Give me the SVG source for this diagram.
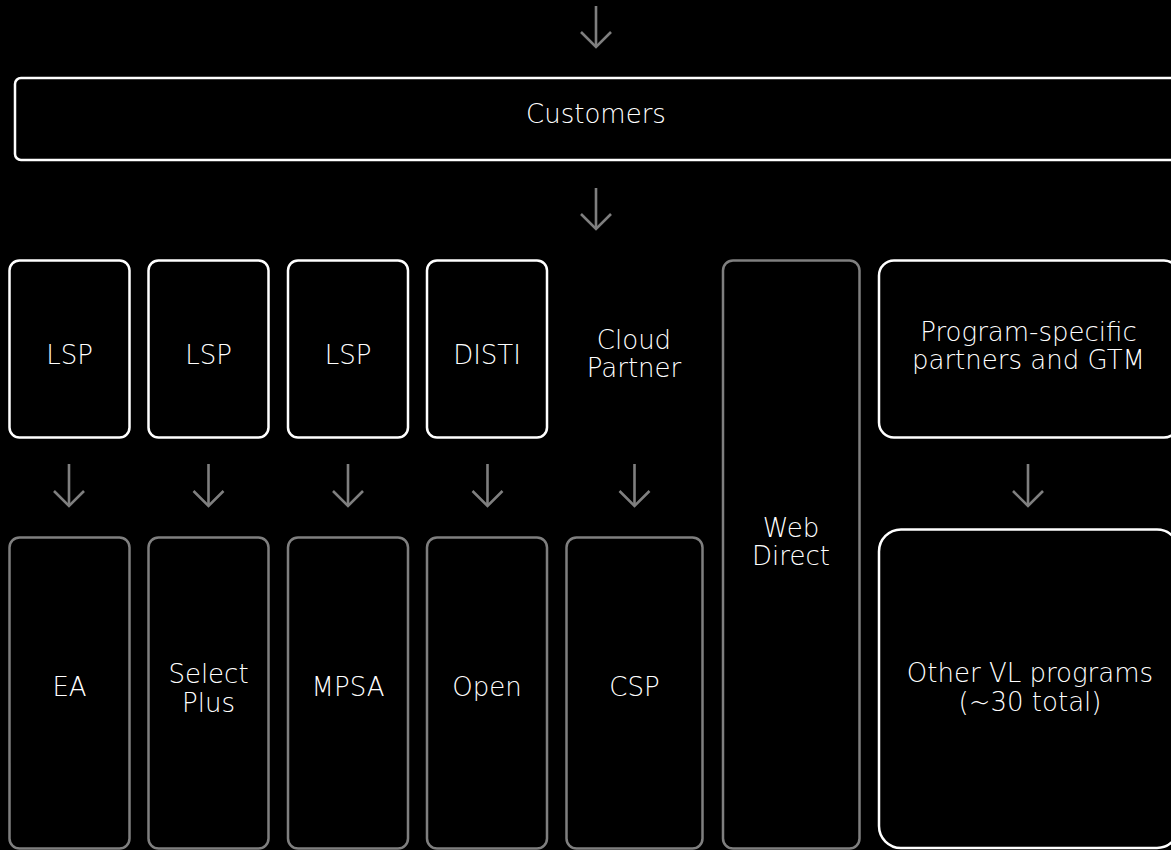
<svg xmlns="http://www.w3.org/2000/svg" width="1171" height="850" viewBox="0 0 1171 850">
<style>
  .bg { fill: #000000; }
  .box { fill: #000000; stroke: #ffffff; stroke-width: 2.5; }
  .gbox { fill: #000000; stroke: #7f7f7f; stroke-width: 2.5; }
  .lbl { fill: #ffffff; font-family: "DejaVu Sans", "Liberation Sans", sans-serif; font-weight: 200; font-size: 26px; text-anchor: middle; }
  .conn { fill: none; stroke: #7f7f7f; stroke-width: 2.6; }
</style>
<defs>
  <marker id="chev" markerUnits="userSpaceOnUse" orient="auto" refX="0" refY="0" markerWidth="20" markerHeight="34" viewBox="-17 -17 20 34" overflow="visible">
    <path d="M -15 -15 L 0 0 L -15 15" fill="none" stroke="#7f7f7f" stroke-width="2.6"/>
  </marker>
</defs>
<rect class="bg" x="0" y="0" width="1171" height="850"/>

<g id="connectors">
  <path class="conn" d="M 596 6 L 596 47" marker-end="url(#chev)"/>
  <path class="conn" d="M 596 188 L 596 229" marker-end="url(#chev)"/>
  <path class="conn" d="M 69 464 L 69 506" marker-end="url(#chev)"/>
  <path class="conn" d="M 208.5 464 L 208.5 506" marker-end="url(#chev)"/>
  <path class="conn" d="M 348 464 L 348 506" marker-end="url(#chev)"/>
  <path class="conn" d="M 487.5 464 L 487.5 506" marker-end="url(#chev)"/>
  <path class="conn" d="M 634.5 464 L 634.5 506" marker-end="url(#chev)"/>
  <path class="conn" d="M 1028 464 L 1028 506" marker-end="url(#chev)"/>
</g>

<g id="customers">
  <rect class="box" x="15" y="78" width="1165" height="82" rx="6"/>
  <text class="lbl" x="596" y="123">Customers</text>
</g>

<g id="lsp1">
  <rect class="box" x="9.5" y="260.5" width="120" height="177" rx="10"/>
  <text class="lbl" x="69.5" y="364">LSP</text>
</g>
<g id="lsp2">
  <rect class="box" x="148.5" y="260.5" width="120" height="177" rx="10"/>
  <text class="lbl" x="208.5" y="364">LSP</text>
</g>
<g id="lsp3">
  <rect class="box" x="288" y="260.5" width="120" height="177" rx="10"/>
  <text class="lbl" x="348" y="364">LSP</text>
</g>
<g id="disti">
  <rect class="box" x="427" y="260.5" width="120" height="177" rx="10"/>
  <text class="lbl" x="487" y="364">DISTI</text>
</g>
<g id="cloud-partner">
  <text class="lbl" x="634" y="349">Cloud</text>
  <text class="lbl" x="634" y="377">Partner</text>
</g>
<g id="web-direct">
  <rect class="gbox" x="723" y="260.5" width="136.5" height="588" rx="10"/>
  <text class="lbl" x="791" y="537">Web</text>
  <text class="lbl" x="791" y="565">Direct</text>
</g>
<g id="program-specific">
  <rect class="box" x="879" y="260.5" width="300" height="177" rx="15"/>
  <text class="lbl" x="1028.5" y="341">Program-specific</text>
  <text class="lbl" x="1028.5" y="369">partners and GTM</text>
</g>

<g id="ea">
  <rect class="gbox" x="9.5" y="537.5" width="120" height="311" rx="10"/>
  <text class="lbl" x="69.5" y="696">EA</text>
</g>
<g id="select-plus">
  <rect class="gbox" x="148.5" y="537.5" width="120" height="311" rx="10"/>
  <text class="lbl" x="208.5" y="683">Select</text>
  <text class="lbl" x="208.5" y="712">Plus</text>
</g>
<g id="mpsa">
  <rect class="gbox" x="288" y="537.5" width="120" height="311" rx="10"/>
  <text class="lbl" x="348" y="696">MPSA</text>
</g>
<g id="open">
  <rect class="gbox" x="427" y="537.5" width="120" height="311" rx="10"/>
  <text class="lbl" x="487" y="696">Open</text>
</g>
<g id="csp">
  <rect class="gbox" x="566.5" y="537.5" width="136" height="311" rx="10"/>
  <text class="lbl" x="634.5" y="696">CSP</text>
</g>
<g id="other-vl">
  <rect class="box" x="879" y="529.5" width="300" height="318.5" rx="22"/>
  <text class="lbl" x="1030" y="682">Other VL programs</text>
  <text class="lbl" x="1030" y="711">(~30 total)</text>
</g>
</svg>
